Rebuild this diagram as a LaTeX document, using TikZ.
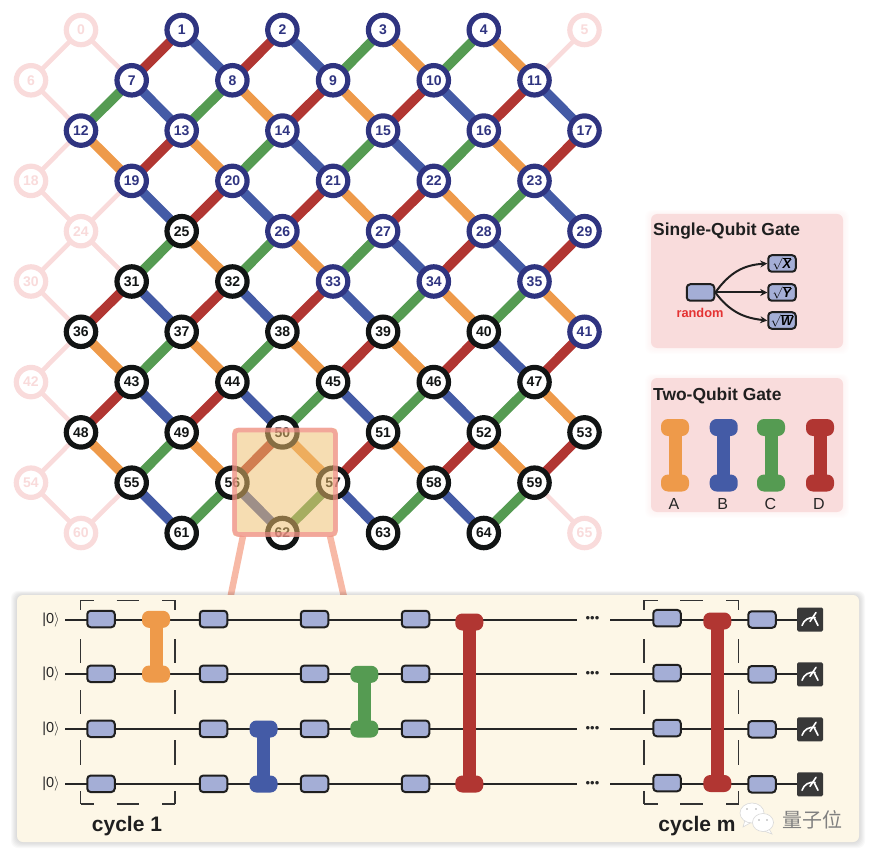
\documentclass[tikz,border=0pt]{standalone}
\usepackage{fontspec}
\setmainfont{Liberation Sans}
\newfontfamily\cjkfont{Noto Sans CJK SC}
\usetikzlibrary{arrows.meta}
\pgfdeclarelayer{under}
\pgfsetlayers{under,main}
\definecolor{qorange}{HTML}{EE9A4A}
\definecolor{qblue}{HTML}{445BA6}
\definecolor{qgreen}{HTML}{559B52}
\definecolor{qred}{HTML}{B13632}
\definecolor{qpale}{HTML}{F9DBDB}
\definecolor{qnavy}{HTML}{2F3480}
\definecolor{qblack}{HTML}{111414}
\definecolor{gatefill}{HTML}{A4AED6}
\definecolor{panelpink}{HTML}{F9DCDC}
\definecolor{panelcream}{HTML}{FDF7E7}
\definecolor{legcolor}{HTML}{F7B9A6}
\tikzset{
  qubit/.style={circle,fill=white,minimum size=29.4pt,inner sep=0pt,line width=5.2pt,font=\fontsize{14}{14}\selectfont\bfseries},
  qpalenode/.style={qubit,draw=qpale,text=qpale},
  qnavynode/.style={qubit,draw=qnavy,text=qnavy},
  qblacknode/.style={qubit,draw=qblack,text=qblack},
  eR/.style={line width=9.5pt,qred},
  eB/.style={line width=9.5pt,qblue},
  eG/.style={line width=9.5pt,qgreen},
  eO/.style={line width=9.5pt,qorange},
  eP/.style={line width=4.6pt,qpale},
  gatebox/.style={draw=black!88,fill=gatefill,rounded corners=3.5pt,minimum width=27.5pt,minimum height=16.5pt,inner sep=0pt,line width=2pt},
  dumbcap/.style={rounded corners=7pt,minimum width=28pt,minimum height=17pt,inner sep=0pt},
  wire/.style={line width=2pt,black!85},
  cyc/.style={line width=1.4pt,black!80},
  ketlabel/.style={font=\fontsize{14.5}{14.5}\selectfont,text=black!85},
  dotsnode/.style={font=\fontsize{13}{13}\selectfont,text=black!85,inner sep=0pt},
  meterbox/.style={fill=black!78,rounded corners=1.5pt,minimum width=26pt,minimum height=24pt,inner sep=0pt},
  heading/.style={font=\fontsize{17.4}{17.4}\selectfont\bfseries,text=black!88,anchor=west,inner sep=0pt},
  cyclelabel/.style={font=\fontsize{21}{21}\selectfont\bfseries,text=black!88,inner sep=0pt},
  gatelabel/.style={font=\fontsize{16}{16}\selectfont,text=black!85,inner sep=0pt},
  arr/.style={line width=2pt,black!88,-{Stealth[length=7pt,width=7pt]}},
  bubble/.style={fill=white,draw=black!15,line width=0.6pt},
}
\newcommand\qnode[2]{%
  \pgfmathtruncatemacro\qr{int(#1/6)}%
  \pgfmathtruncatemacro\qc{mod(#1,6)}%
  \pgfmathsetmacro\qx{(mod(\qr,2)==0 ? 81 : 31)+100.7*\qc}%
  \pgfmathsetmacro\qy{30+50.3*\qr}%
  \node[#2] (n#1) at (\qx,\qy) {#1};}
\newcommand\dumbbell[5]{% name, x, y1, y2, colour
  \node[dumbcap,fill=#5] (#1a) at (#2,#3) {};
  \node[dumbcap,fill=#5] (#1b) at (#2,#4) {};
  \draw[line width=13pt,#5] (#1a.center) -- (#1b.center);}
\newcommand\softpanel[7]{% x1,y1,x2,y2,fill,shadow,opacity
  \foreach \qs in {1,2,3,4,5,6}{
    \fill[#6,opacity=#7,rounded corners=7pt] (#1-\qs,#2-\qs*0.7) rectangle (#3+\qs,#4+\qs);}
  \fill[#5,rounded corners=6pt] (#1,#2) rectangle (#3,#4);}
\newcommand\meterglyph[1]{%
  \draw[white,line width=1.6pt,line cap=round] ([shift={(-8,6)}]#1.center) .. controls ([shift={(-6,0)}]#1.center) and ([shift={(-1,-2.5)}]#1.center) .. ([shift={(5,-2)}]#1.center);
  \draw[white,line width=1.6pt,line cap=round] ([shift={(0,2)}]#1.center) -- ([shift={(6,-7)}]#1.center);
  \draw[white,line width=1.6pt,line cap=round] ([shift={(4,-2)}]#1.center) -- ([shift={(8,6)}]#1.center);}
\begin{document}
\begin{tikzpicture}[x=1pt,y=-1pt]
\useasboundingbox (0,0) rectangle (872,858);
% ----- qubit lattice
\foreach \i in {0,5,6,18,24,30,42,54,60,65}{\qnode{\i}{qpalenode}}
\foreach \i in {1,2,3,4,7,8,9,10,11,12,13,14,15,16,17,19,20,21,22,23,26,27,28,29,33,34,35,41}{\qnode{\i}{qnavynode}}
\foreach \i in {25,31,32,36,37,38,39,40,43,44,45,46,47,48,49,50,51,52,53,55,56,57,58,59,61,62,63,64}{\qnode{\i}{qblacknode}}
\begin{pgfonlayer}{under}
\foreach \a/\b in {0/6,0/7,5/11,6/12,12/18,18/24,19/24,24/30,24/31,30/36,36/42,42/48,48/54,54/60,55/60,59/65}
  {\draw[eP] (n\a.center) -- (n\b.center);}
\foreach \a/\b in {1/7,2/8,9/14,10/15,11/16,13/19,17/23,20/25,21/26,22/27,28/34,29/35,31/36,32/37,33/38,39/45,40/46,41/47,43/48,44/49,50/56,51/57,52/58,53/59}
  {\draw[eR] (n\a.center) -- (n\b.center);}
\foreach \a/\b in {1/8,2/9,7/13,10/16,11/17,14/21,15/22,19/25,20/26,23/29,27/34,28/35,31/37,32/38,33/39,40/47,43/49,44/50,45/51,46/52,55/61,56/62,57/63,58/64}
  {\draw[eB] (n\a.center) -- (n\b.center);}
\foreach \a/\b in {3/9,4/10,7/12,8/13,14/20,15/21,16/22,23/28,25/31,26/32,27/33,34/39,35/40,37/43,38/44,45/50,46/51,47/52,49/55,56/61,57/62,58/63,59/64}
  {\draw[eG] (n\a.center) -- (n\b.center);}
\foreach \a/\b in {3/10,4/11,8/14,9/15,12/19,13/20,16/23,21/27,22/28,25/32,26/33,34/40,35/41,36/43,37/44,38/45,39/46,47/53,48/55,49/56,50/57,51/58,52/59}
  {\draw[eO] (n\a.center) -- (n\b.center);}
\end{pgfonlayer}
% ----- zoom legs and highlight
\coordinate (legAt) at (243,536);
\coordinate (legAb) at (230.5,597);
\coordinate (legBt) at (330,536);
\coordinate (legBb) at (344,597);
\draw[line width=6.5pt,legcolor] (legAt) -- (legAb);
\draw[line width=6.5pt,legcolor] (legBt) -- (legBb);
\fill[fill={rgb,255:red,238;green,190;blue,110},opacity=0.53,rounded corners=4pt] (232.5,428) rectangle (337.5,536.5);
\draw[draw={rgb,255:red,240;green,135;blue,140},opacity=0.62,line width=4.6pt,rounded corners=4pt] (234.5,430) rectangle (335.5,534.5);
% ----- legend: single qubit
\softpanel{651}{214}{843}{348}{panelpink}{panelpink}{0.05}
\node[heading] (singletitle) at (653,231) {Single-Qubit Gate};
\node[gatebox] (src) at (700.5,292.5) {};
\newcommand\gatetext[1]{\fontsize{13}{13}\selectfont\bfseries\itshape $\sqrt{\hbox{#1}}$}
\node[gatebox] (gx) at (782,263.5) {\gatetext{X}};
\node[gatebox] (gy) at (782,292.5) {\gatetext{Y}};
\node[gatebox] (gw) at (782,320.5) {\gatetext{W}};
\draw[arr] (src.east) .. controls (730,272) and (744,265) .. (gx.west);
\draw[arr] (src.east) -- (gy.west);
\draw[arr] (src.east) .. controls (730,312) and (744,318) .. (gw.west);
\node[font=\fontsize{12.8}{12.8}\selectfont\bfseries,text={rgb,255:red,228;green,50;blue,50},inner sep=0pt] (rnd) at (700,313) {random};
% ----- legend: two qubit
\softpanel{651}{378}{843}{512}{panelpink}{panelpink}{0.05}
\node[heading] (twotitle) at (653,396) {Two-Qubit Gate};
\dumbbell{A}{675}{427.5}{483}{qorange}
\dumbbell{B}{723.7}{427.5}{483}{qblue}
\dumbbell{C}{771}{427.5}{483}{qgreen}
\dumbbell{D}{820}{427.5}{483}{qred}
\node[gatelabel] (la) at (674,504) {A};
\node[gatelabel] (lb) at (722.7,504) {B};
\node[gatelabel] (lc) at (770.5,504) {C};
\node[gatelabel] (ld) at (819,504) {D};
% ----- circuit panel
\softpanel{17}{595}{859}{842}{panelcream}{black}{0.022}
\foreach \n/\y in {1/619.5,2/674.3,3/729.3,4/784.3}{
  \node[ketlabel] (ket\n) at (51,\y) {|0$\rangle$};
  \node[meterbox] (m\n) at (810,\y) {};
  \meterglyph{m\n}
  \node[dotsnode] (dots\n) at (592.5,\y) {\textbullet\textbullet\textbullet};
  \coordinate (ws\n) at (65,\y);
  \coordinate (we\n) at (577,\y);
  \coordinate (wr\n) at (610,\y);
  \draw[wire] (ws\n) -- (we\n);
  \draw[wire] (wr\n) -- (m\n);
  \node[gatebox] (g1\n) at (101,\y-0.5) {};
  \node[gatebox] (g2\n) at (213.5,\y-0.5) {};
  \node[gatebox] (g3\n) at (314.5,\y-0.5) {};
  \node[gatebox] (g4\n) at (415.5,\y-0.5) {};
  \node[gatebox] (g5\n) at (667,\y-1.3) {};
  \node[gatebox] (g6\n) at (762,\y) {};
}
% dashed cycle boxes
\foreach \xl/\xr/\xa/\xb/\xc/\xd in {80.7/175/94/116.7/139.3/162.3,644/738.7/657.7/680/702.7/726}{
  \foreach \yy in {600.3,804}{
    \draw[cyc] (\xl,\yy) -- (\xa,\yy);
    \draw[cyc] (\xb,\yy) -- (\xc,\yy);
    \draw[cyc] (\xd,\yy) -- (\xr,\yy);}
  \foreach \xx in {\xl,\xr}{
    \draw[cyc] (\xx,600.3) -- (\xx,610);
    \draw[cyc] (\xx,639.3) -- (\xx,663.3);
    \draw[cyc] (\xx,690) -- (\xx,714);
    \draw[cyc] (\xx,740) -- (\xx,765);
    \draw[cyc] (\xx,791) -- (\xx,804);}
}
\dumbbell{co}{156}{619.3}{674}{qorange}
\dumbbell{cb}{263.5}{729}{784}{qblue}
\dumbbell{cg}{364.3}{674.3}{729}{qgreen}
\dumbbell{cr}{469.3}{622}{784}{qred}
\dumbbell{cm}{717.3}{621}{783.5}{qred}
\node[cyclelabel] (c1) at (127,826) {cycle 1};
\node[cyclelabel] (cm) at (697,826) {cycle m};
% ----- watermark
\fill[bubble] (745,820) -- (743,827) -- (751,822.5) -- cycle;
\fill[bubble] (752,813) ellipse (12 and 10);
\fill[bubble] (769,829) -- (772,834) -- (764,831) -- cycle;
\fill[bubble] (763,822.5) ellipse (10.5 and 9);
\foreach \ex/\ey in {747/809,756/809,759/820,767/820}{\fill[black!35] (\ex,\ey) circle (0.9);}
\node[font=\cjkfont\fontsize{20}{20}\selectfont,text=black!50,inner sep=0pt] (wm) at (812,820) {量子位};
\end{tikzpicture}
\end{document}
